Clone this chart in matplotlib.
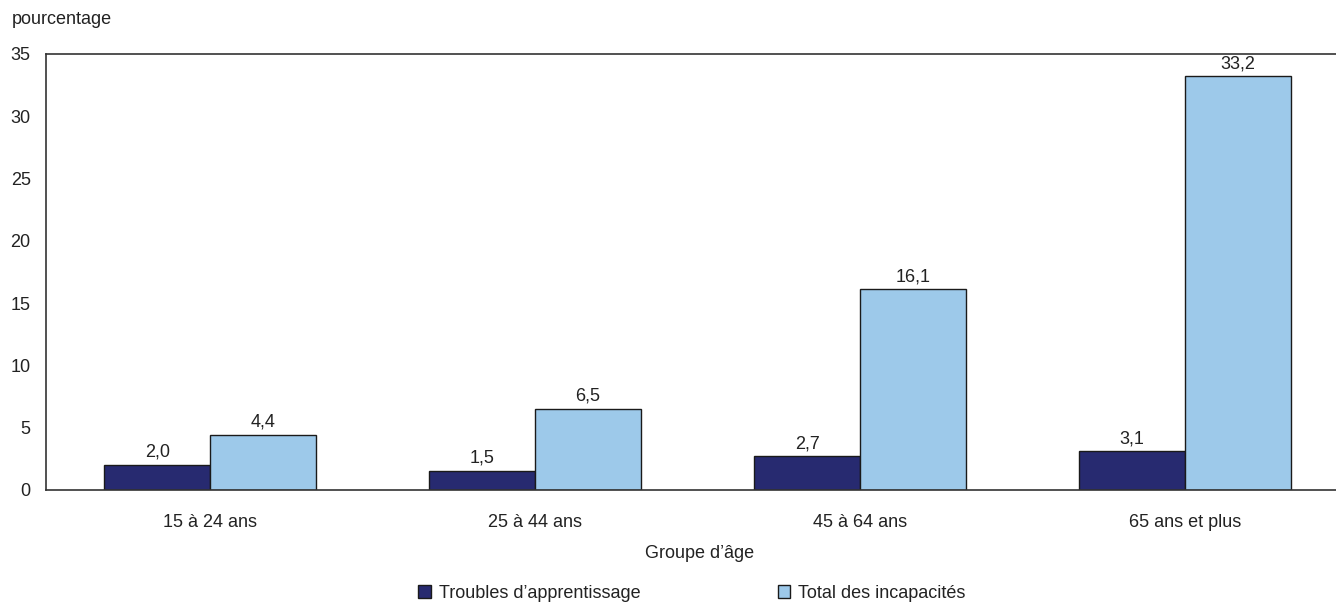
import matplotlib
matplotlib.use("Agg")
import matplotlib.pyplot as plt
import numpy as np
from matplotlib import font_manager

names = {f.name for f in font_manager.fontManager.ttflist}
fam = "Liberation Sans Narrow" if "Liberation Sans Narrow" in names else "Liberation Sans"
plt.rcParams['font.family'] = [fam, 'DejaVu Sans']

categories = ["15 à 24 ans", "25 à 44 ans", "45 à 64 ans", "65 ans et plus"]
troubles = [2.0, 1.5, 2.7, 3.1]
total = [4.4, 6.5, 16.1, 33.2]
series_names = ["Troubles d’apprentissage", "Total des incapacités"]
yticks = [0, 5, 10, 15, 20, 25, 30, 35]

dark = "#272A70"
light = "#9DC9EA"

W, H = 1336, 602
fig = plt.figure(figsize=(W/100, H/100), dpi=100)
ax = fig.add_axes([46/W, 1-490/H, (1336-46)/W, (490-54)/H])

x = np.arange(len(categories))
bw = 0.326
b1 = ax.bar(x - bw/2, troubles, bw, color=dark, edgecolor="#1a1a1a", linewidth=1, label=series_names[0])
b2 = ax.bar(x + bw/2, total, bw, color=light, edgecolor="#1a1a1a", linewidth=1, label=series_names[1])

for bars, vals in ((b1, troubles), (b2, total)):
    for r, v in zip(bars, vals):
        ax.text(r.get_x() + r.get_width()/2, v + 0.35, f"{v:.1f}".replace(".", ","),
                ha="center", va="bottom", fontsize=13, color="#222222")

ax.set_xlim(-0.505, 3.465)
ax.set_ylim(0, 35)
ax.set_yticks(yticks)
ax.set_yticklabels([str(t) for t in yticks], fontsize=13, color="#222222")
ax.set_xticks(x)
ax.set_xticklabels(categories, fontsize=13, color="#222222")
ax.tick_params(axis="x", length=0, pad=17)
ax.tick_params(axis="y", length=0, pad=11)
for s in ("left", "top", "bottom"):
    ax.spines[s].set_color("#333333")
    ax.spines[s].set_linewidth(1.2)
ax.spines["right"].set_visible(False)

fig.text(12/W, 1-20/H, "pourcentage", fontsize=13, color="#222222", ha="left", va="center")
fig.text(700/W, 1-553/H, "Groupe d’âge", fontsize=13, color="#222222", ha="center", va="center")

leg = fig.legend(handles=[b1, b2], labels=series_names, loc="center", bbox_to_anchor=(692/W, 1-593/H),
                 ncol=2, frameon=False, fontsize=13, handlelength=0.7, handleheight=0.7,
                 handletextpad=0.45, columnspacing=7.6, borderaxespad=0)
for t in leg.get_texts():
    t.set_color("#222222")

fig.savefig("out.png", dpi=100)
